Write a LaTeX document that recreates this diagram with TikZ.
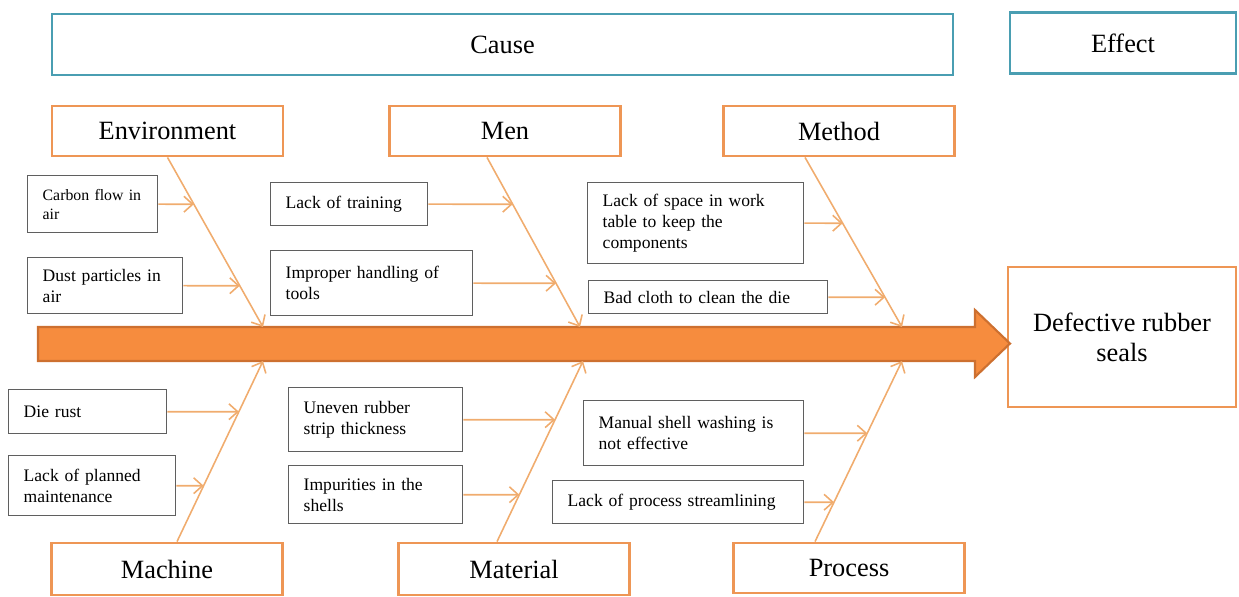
\documentclass[tikz,border=0pt]{standalone}
\usepackage{xcolor}
\usepackage{fontspec}
\setmainfont{Liberation Serif}
\usetikzlibrary{arrows.meta}
\definecolor{boxorange}{RGB}{238,150,85}
\definecolor{boneorange}{RGB}{240,172,110}
\definecolor{spinefill}{RGB}{246,140,62}
\definecolor{spinedraw}{RGB}{205,112,48}
\definecolor{headteal}{RGB}{74,158,178}
\definecolor{causegray}{RGB}{95,95,95}

\begin{document}
\begin{tikzpicture}[x=0.02cm, y=-0.02cm,
  head/.style={rectangle, draw=headteal, line width=1.6pt, minimum height=1.22cm, font=\fontsize{15}{18}\selectfont},
  cat/.style={rectangle, draw=boxorange, line width=1.6pt, minimum width=4.62cm, minimum height=1cm, font=\fontsize{15}{18}\selectfont},
  cause/.style={rectangle, draw=causegray, line width=0.8pt, anchor=north west, inner xsep=0.3cm, align=left, font=\fontsize{10}{11.8}\selectfont},
  spine/.style={fill=spinefill, draw=spinedraw, line width=1.2pt, line join=miter},
  bone/.style={draw=boneorange, line width=0.9pt, -{Straight Barb[length=5pt,width=9pt]}},
  twig/.style={draw=boneorange, line width=0.9pt, -{Straight Barb[length=5pt,width=9pt]}}]
\useasboundingbox (0,0) rectangle (1239,596);

\node (cause) [head, minimum width=18.02cm] at (502.5,44.5) {Cause};
\node (effect) [head, minimum width=4.52cm] at (1123,43) {Effect};

\node (env) [cat] at (167.5,131) {Environment};
\node (men) [cat] at (505,131) {Men};
\node (method) [cat] at (839,131) {Method};
\node (machine) [cat, minimum height=1.04cm] at (167,569) {Machine};
\node (material) [cat, minimum height=1.04cm] at (514,569) {Material};
\node (process) [cat] at (849,568) {Process};

\node (defect) [cat, minimum width=4.56cm, minimum height=2.8cm, align=center, font=\fontsize{15}{17}\selectfont] at (1122,337) {Defective rubber\\seals};

\draw[spine] (38,327) -- (975,327) -- (975,310) -- (1010,343.5) -- (975,377) -- (975,361) -- (38,361) -- cycle;

\node (carbon) [cause, text width=2.0cm, minimum height=1.14cm, font=\fontsize{9}{10.8}\selectfont] at (27,175) {Carbon flow in\\air};
\node (dust) [cause, text width=2.5cm, minimum height=1.12cm] at (27,257) {Dust particles in\\air};
\node (training) [cause, text width=2.54cm, minimum height=0.86cm] at (270,182) {Lack of training};
\node (tools) [cause, text width=3.44cm, minimum height=1.3cm] at (270,250) {Improper handling of\\tools};
\node (space) [cause, text width=3.72cm, minimum height=1.62cm] at (587,182) {Lack of space in work\\table to keep the\\components};
\node (cloth) [cause, text width=4.18cm, minimum height=0.66cm] at (588,280) {Bad cloth to clean the die};
\node (rust) [cause, text width=2.56cm, minimum height=0.88cm] at (8,389) {Die rust};
\node (planned) [cause, text width=2.74cm, minimum height=1.2cm] at (8,455) {Lack of planned\\maintenance};
\node (uneven) [cause, text width=2.88cm, minimum height=1.28cm] at (288,387) {Uneven rubber\\strip thickness};
\node (impure) [cause, text width=2.88cm, minimum height=1.16cm] at (288,465) {Impurities in the\\shells};
\node (washing) [cause, text width=3.8cm, minimum height=1.3cm] at (583,400) {Manual shell washing is\\not effective};
\node (stream) [cause, text width=4.42cm, minimum height=0.86cm] at (552,480) {Lack of process streamlining};

\coordinate (envroot) at (env.south);
\coordinate (menroot) at ([xshift=-0.36cm]men.south);
\coordinate (methodroot) at ([xshift=-0.68cm]method.south);
\coordinate (machineroot) at ([xshift=0.2cm]machine.north);
\coordinate (materialroot) at ([xshift=-0.34cm]material.north);
\coordinate (processroot) at ([xshift=-0.68cm]process.north);
\coordinate (envhead) at (263,327);
\coordinate (menhead) at (580,327);
\coordinate (methodhead) at (902,327);
\coordinate (machinehead) at (263,361);
\coordinate (materialhead) at (583,361);
\coordinate (processhead) at (902,361);

\draw[bone] (envroot) -- (envhead);
\draw[bone] (menroot) -- (menhead);
\draw[bone] (methodroot) -- (methodhead);
\draw[bone] (machineroot) -- (machinehead);
\draw[bone] (materialroot) -- (materialhead);
\draw[bone] (processroot) -- (processhead);

\draw[twig] (carbon.east) -- (intersection of carbon.west--carbon.east and envroot--envhead);
\draw[twig] (dust.east) -- (intersection of dust.west--dust.east and envroot--envhead);
\draw[twig] (training.east) -- (intersection of training.west--training.east and menroot--menhead);
\draw[twig] (tools.east) -- (intersection of tools.west--tools.east and menroot--menhead);
\draw[twig] (space.east) -- (intersection of space.west--space.east and methodroot--methodhead);
\draw[twig] (cloth.east) -- (intersection of cloth.west--cloth.east and methodroot--methodhead);
\draw[twig] (rust.east) -- (intersection of rust.west--rust.east and machineroot--machinehead);
\draw[twig] (planned.east) -- (intersection of planned.west--planned.east and machineroot--machinehead);
\draw[twig] (uneven.east) -- (intersection of uneven.west--uneven.east and materialroot--materialhead);
\draw[twig] (impure.east) -- (intersection of impure.west--impure.east and materialroot--materialhead);
\draw[twig] (washing.east) -- (intersection of washing.west--washing.east and processroot--processhead);
\draw[twig] (stream.east) -- (intersection of stream.west--stream.east and processroot--processhead);
\end{tikzpicture}
\end{document}
